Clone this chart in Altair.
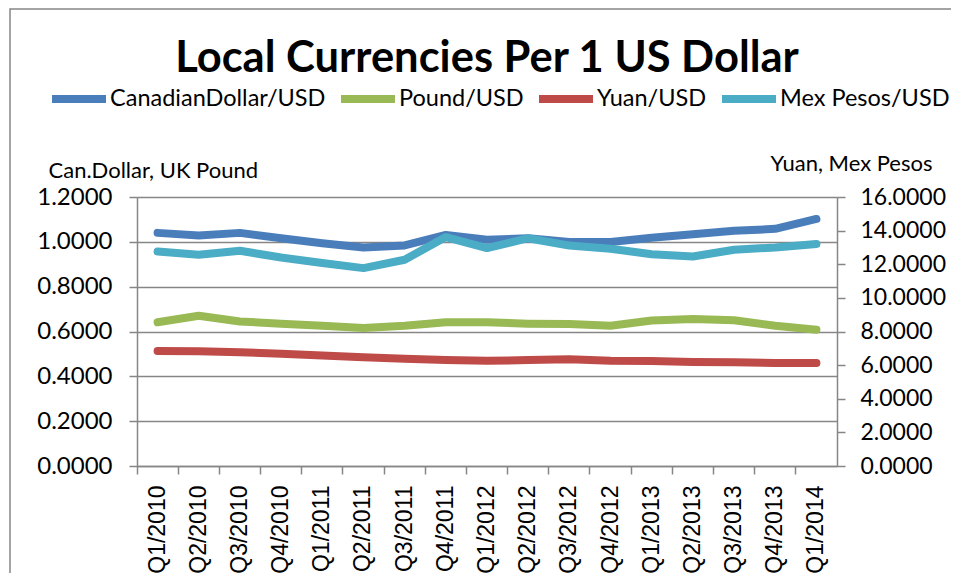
import altair as alt
import pandas as pd

quarters = ["Q1/2010", "Q2/2010", "Q3/2010", "Q4/2010",
            "Q1/2011", "Q2/2011", "Q3/2011", "Q4/2011",
            "Q1/2012", "Q2/2012", "Q3/2012", "Q4/2012",
            "Q1/2013", "Q2/2013", "Q3/2013", "Q4/2013",
            "Q1/2014"]

cad = [1.040, 1.028, 1.040, 1.016, 0.994, 0.975, 0.984, 1.031, 1.009,
       1.016, 0.999, 0.999, 1.018, 1.034, 1.049, 1.058, 1.102]
pound = [0.641, 0.670, 0.645, 0.635, 0.626, 0.616, 0.626, 0.641, 0.641,
         0.635, 0.633, 0.626, 0.649, 0.656, 0.650, 0.626, 0.608]
yuan = [6.84, 6.83, 6.77, 6.67, 6.57, 6.47, 6.38, 6.31, 6.26,
        6.30, 6.35, 6.26, 6.24, 6.18, 6.17, 6.13, 6.13]
mex = [12.76, 12.56, 12.80, 12.40, 12.07, 11.77, 12.27, 13.62, 12.96,
       13.55, 13.11, 12.92, 12.60, 12.46, 12.86, 13.00, 13.21]

series_names = ["CanadianDollar/USD", "Pound/USD", "Yuan/USD", "Mex Pesos/USD"]
series_colors = ["#4A7EBB", "#98B954", "#BE4B48", "#4BACC6"]

left_tick_values = [0.0, 0.2, 0.4, 0.6, 0.8, 1.0, 1.2]
right_tick_values = [0, 2, 4, 6, 8, 10, 12, 14, 16]


def long_table(pairs):
    rows = []
    for name, vals in pairs:
        for q, v in zip(quarters, vals):
            rows.append({"quarter": q, "series": name, "value": v})
    return pd.DataFrame(rows)


df_left = long_table([(series_names[0], cad), (series_names[1], pound)])
df_right = long_table([(series_names[2], yuan), (series_names[3], mex)])

GRID = "#868686"

x_enc = alt.X(
    "quarter:N",
    sort=quarters,
    scale=alt.Scale(type="band", paddingInner=0, paddingOuter=0),
    axis=alt.Axis(
        title=None, labelAngle=-90, bandPosition=0, grid=False,
        domainColor=GRID, domainWidth=1.5, tickColor=GRID, tickWidth=1.5,
        tickSize=8, labelFont="Liberation Sans", labelFontSize=23,
        labelColor="black", labelPadding=11, labelOverlap=False,
    ),
)

color_enc = alt.Color(
    "series:N",
    scale=alt.Scale(domain=series_names, range=series_colors),
    legend=alt.Legend(
        title=None, orient="none", legendX=-89, legendY=-129,
        direction="horizontal", symbolType="stroke", symbolSize=2916,
        symbolStrokeWidth=8, labelFont="Lato", labelFontSize=23.5,
        labelColor="black", labelOffset=0, columnPadding=-1, labelLimit=0,
    ),
)

line_style = dict(strokeWidth=8, strokeCap="round", strokeJoin="round")

left = alt.Chart(df_left).mark_line(**line_style).encode(
    x=x_enc,
    y=alt.Y(
        "value:Q",
        scale=alt.Scale(domain=[0, 1.2], nice=False, zero=True),
        axis=alt.Axis(
            title="Can.Dollar, UK Pound", titleAngle=0, titleAlign="left",
            titleBaseline="alphabetic", titleX=-89, titleY=-20,
            titleFont="Lato", titleFontSize=22, titleFontWeight="normal",
            titleColor="black",
            values=left_tick_values, format=".4f", grid=True,
            gridColor=GRID, gridWidth=1.5, domainColor=GRID, domainWidth=1.5,
            tickColor=GRID, tickWidth=1.5, tickSize=8,
            labelFont="Lato", labelFontSize=24, labelColor="black",
            labelPadding=17,
        ),
    ),
    color=color_enc,
)

right = alt.Chart(df_right).mark_line(**line_style).encode(
    x=x_enc,
    y=alt.Y(
        "value:Q",
        scale=alt.Scale(domain=[0, 16], nice=False, zero=True),
        axis=alt.Axis(
            orient="right",
            title="Yuan, Mex Pesos", titleAngle=0, titleAlign="right",
            titleBaseline="alphabetic", titleX=95, titleY=-27,
            titleFont="Lato", titleFontSize=22, titleFontWeight="normal",
            titleColor="black",
            values=right_tick_values, format=".4f", grid=False,
            domainColor=GRID, domainWidth=1.5,
            tickColor=GRID, tickWidth=1.5, tickSize=8,
            labelFont="Lato", labelFontSize=23, labelColor="black",
            labelPadding=15,
        ),
    ),
    color=color_enc,
)

frame = alt.Chart(alt.Data(values=[{}])).mark_rect(
    fillOpacity=0, stroke=GRID, strokeWidth=1.5
).encode(
    x=alt.value(-127), x2=alt.value(900),
    y=alt.value(-188), y2=alt.value(500),
)

chart = alt.layer(frame, left, right).resolve_scale(
    y="independent"
).properties(
    width=700,
    height=269,
    title=alt.TitleParams(
        "Local Currencies Per 1 US Dollar", font="Lato", fontSize=43.5,
        fontWeight="bold", color="black", anchor="middle",
        baseline="alphabetic", dy=111,
    ),
    autosize=alt.AutoSizeParams(type="none"),
    padding={"left": 129, "top": 189, "right": 114, "bottom": 107},
).configure_view(stroke=None)

chart.save("out.html", embed_options={"renderer": "svg", "actions": False})
